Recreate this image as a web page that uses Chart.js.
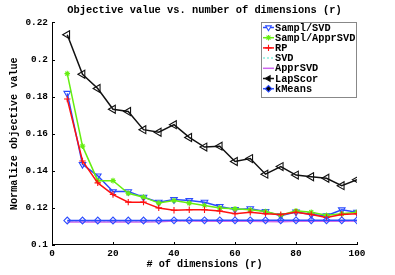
<!DOCTYPE html>
<html>
<head>
<meta charset="utf-8">
<script src="https://cdn.jsdelivr.net/npm/chart.js@4/dist/chart.umd.min.js"></script>
<style>
  html, body { margin: 0; padding: 0; background: #fff; }
  #wrap { width: 395px; height: 275px; }
</style>
</head>
<body>
<div id="wrap"><canvas id="graphs" width="395" height="275"></canvas></div>
<script>
// number of dimensions (x axis)
const dims = [5, 10, 15, 20, 25, 30, 35, 40, 45, 50, 55, 60, 65, 70, 75, 80, 85, 90, 95, 100];

// normalized objective values
const samplSvd     = [0.1818, 0.1435, 0.1373, 0.1288, 0.1288, 0.1258, 0.1231, 0.1245, 0.1240, 0.1231, 0.1208, 0.1192, 0.1196, 0.1181, 0.1158, 0.1178, 0.1164, 0.1158, 0.1190, 0.1177];
const samplApprSvd = [0.1924, 0.1533, 0.1347, 0.1347, 0.1279, 0.1258, 0.1226, 0.1240, 0.1226, 0.1213, 0.1200, 0.1195, 0.1190, 0.1181, 0.1160, 0.1184, 0.1177, 0.1160, 0.1168, 0.1177];
const rp           = [0.1787, 0.1453, 0.1335, 0.1272, 0.1231, 0.1231, 0.1200, 0.1187, 0.1190, 0.1190, 0.1183, 0.1169, 0.1177, 0.1169, 0.1164, 0.1177, 0.1165, 0.1148, 0.1165, 0.1169];
const svd          = [0.1128, 0.1128, 0.1128, 0.1128, 0.1128, 0.1128, 0.1128, 0.1129, 0.1129, 0.1129, 0.1129, 0.1129, 0.1129, 0.1129, 0.1129, 0.1129, 0.1129, 0.1129, 0.1129, 0.1129];
const apprSvd      = [0.1124, 0.1124, 0.1124, 0.1124, 0.1124, 0.1124, 0.1125, 0.1130, 0.1130, 0.1128, 0.1128, 0.1128, 0.1128, 0.1127, 0.1125, 0.1128, 0.1128, 0.1128, 0.1128, 0.1130];
const lapScor      = [0.2134, 0.1921, 0.1844, 0.1732, 0.1720, 0.1622, 0.1608, 0.1649, 0.1580, 0.1528, 0.1533, 0.1450, 0.1466, 0.1382, 0.1423, 0.1377, 0.1368, 0.1360, 0.1320, 0.1352];
const kMeans       = [0.1132, 0.1132, 0.1132, 0.1132, 0.1132, 0.1132, 0.1132, 0.1133, 0.1133, 0.1133, 0.1133, 0.1133, 0.1133, 0.1133, 0.1133, 0.1133, 0.1133, 0.1133, 0.1133, 0.1133];

// axis ticks
const xTicks = [0, 20, 40, 60, 80, 100];
const yTicks = [0.1, 0.12, 0.14, 0.16, 0.18, 0.2, 0.22];

const mono = "'Liberation Mono', 'Courier New', monospace";

function pts(vals) {
    return vals.map((v, i) => ({ x: dims[i], y: v }));
}

function series(label, vals, color, style, extra) {
    return Object.assign({
        label: label,
        data: pts(vals),
        borderColor: color,
        backgroundColor: "rgba(0,0,0,0)",
        borderWidth: 1.5,
        pointStyle: style,
        pointRadius: style ? 3 : 0,
        pointBorderColor: color,
        pointBackgroundColor: "rgba(0,0,0,0)",
        pointBorderWidth: 1.1,
        tension: 0
    }, extra || {});
}

let datasets = [
    series("Sampl/SVD", samplSvd, "#2a4bff", "triangle", { pointRotation: 180, pointRadius: 3.8, order: 7 }),
    series("Sampl/ApprSVD", samplApprSvd, "#66ee11", "star", { pointRadius: 2.8, order: 6 }),
    series("RP", rp, "#ff1010", "cross", { pointRadius: 3.2, order: 5 }),
    series("SVD", svd, "#88eedd", false, { borderDash: [2, 2], order: 4 }),
    series("ApprSVD", apprSvd, "#cc66ee", false, { order: 3 }),
    series("LapScor", lapScor, "#111111", "triangle", { pointRotation: 270, pointRadius: 4.6, order: 2 }),
    series("kMeans", kMeans, "#2a4bff", "rectRot", { pointRadius: 3.4, order: 1 })
];

// legend box drawn inside the plot, top right
const boxLegend = {
    id: "boxLegend",
    afterDraw(chart) {
        const ctx = chart.ctx;
        const x0 = 261, y0 = 22, w = 95, h = 75;
        ctx.save();
        ctx.fillStyle = "#fff";
        ctx.fillRect(x0, y0, w, h);
        ctx.strokeStyle = "#888";
        ctx.lineWidth = 1;
        ctx.strokeRect(x0 + 0.5, y0 + 0.5, w, h);
        ctx.font = "bold 10.3px " + mono;
        ctx.textBaseline = "middle";
        chart.data.datasets.forEach((ds, i) => {
            const y = y0 + 5.5 + i * 10.2;
            ctx.strokeStyle = ds.borderColor;
            ctx.lineWidth = 1.5;
            ctx.setLineDash(ds.borderDash || []);
            ctx.beginPath();
            ctx.moveTo(x0 + 2, y);
            ctx.lineTo(x0 + 13, y);
            ctx.stroke();
            ctx.setLineDash([]);
            if (ds.pointStyle) {
                ctx.lineWidth = 1.1;
                Chart.helpers.drawPoint(ctx, {
                    pointStyle: ds.pointStyle,
                    radius: Math.min(ds.pointRadius, 3.2),
                    rotation: ds.pointRotation || 0,
                    borderWidth: 1.1
                }, x0 + 7.5, y);
            }
            ctx.fillStyle = "#000";
            ctx.fillText(ds.label, x0 + 14, y + 0.5);
        });
        ctx.restore();
    }
};

// matlab style inward ticks on left and bottom axes
const inwardTicks = {
    id: "inwardTicks",
    afterDatasetsDraw(chart) {
        const ctx = chart.ctx, a = chart.chartArea;
        const xs = chart.scales.x, ys = chart.scales.y;
        ctx.save();
        ctx.strokeStyle = "#000";
        ctx.lineWidth = 1;
        ctx.beginPath();
        xTicks.forEach(v => {
            const px = Math.round(xs.getPixelForValue(v)) + 0.5;
            ctx.moveTo(px, a.bottom);
            ctx.lineTo(px, a.bottom - 3);
        });
        yTicks.forEach(v => {
            const py = Math.round(ys.getPixelForValue(v)) + 0.5;
            ctx.moveTo(a.left, py);
            ctx.lineTo(a.left + 3, py);
        });
        ctx.stroke();
        ctx.restore();
    }
};

let config = {
    type: "line",
    data: { datasets: datasets },
    options: {
        responsive: false,
        animation: false,
        layout: { padding: { left: 8, right: 38, top: 0, bottom: 4 } },
        plugins: {
            legend: { display: false },
            tooltip: { enabled: false },
            title: {
                display: true,
                fullSize: false,
                text: "Objective value vs. number of dimensions (r)",
                color: "#000",
                font: { family: mono, size: 10.4, weight: "bold" },
                padding: { top: 4, bottom: 6 }
            }
        },
        scales: {
            x: {
                type: "linear",
                min: 0,
                max: 100,
                afterFit(scale) { scale.height = 26; },
                afterBuildTicks(scale) { scale.ticks = xTicks.map(v => ({ value: v })); },
                grid: { display: true, drawOnChartArea: false, drawTicks: false },
                border: { display: true, color: "#000", width: 1 },
                ticks: {
                    color: "#000",
                    padding: 3,
                    maxRotation: 0,
                    font: { family: mono, size: 9.4, weight: "bold" }
                },
                title: {
                    display: true,
                    text: "# of dimensions (r)",
                    color: "#000",
                    padding: 0,
                    font: { family: mono, size: 10.2, weight: "bold" }
                }
            },
            y: {
                type: "linear",
                min: 0.1,
                max: 0.22,
                afterFit(scale) { scale.width = 44; },
                afterBuildTicks(scale) { scale.ticks = yTicks.map(v => ({ value: v })); },
                grid: { display: true, drawOnChartArea: false, drawTicks: false },
                border: { display: true, color: "#000", width: 1 },
                ticks: {
                    color: "#000",
                    padding: 4,
                    font: { family: mono, size: 9.4, weight: "bold" },
                    callback: v => String(+v.toFixed(2))
                },
                title: {
                    display: true,
                    text: "Normalize objective value",
                    color: "#000",
                    padding: 0,
                    font: { family: mono, size: 10.2, weight: "bold" }
                }
            }
        }
    },
    plugins: [inwardTicks, boxLegend]
};

let chart = new Chart(document.getElementById("graphs").getContext("2d"), config);
</script>
</body>
</html>
